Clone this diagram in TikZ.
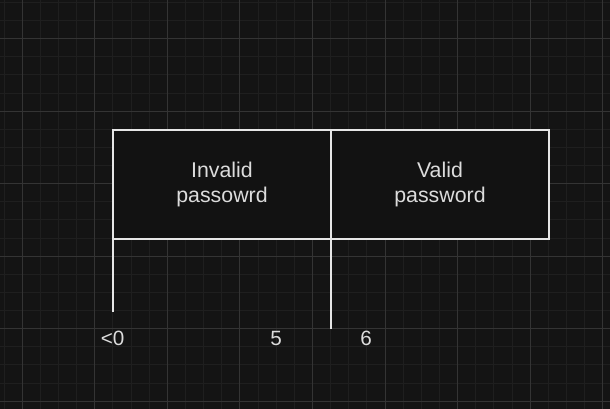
\documentclass[tikz,border=0pt]{standalone}
\usepackage{fontspec}
\setmainfont{Liberation Sans}
\definecolor{bgc}{HTML}{141414}
\definecolor{minorc}{HTML}{1F1F1F}
\definecolor{majorc}{HTML}{343434}
\definecolor{boxfill}{HTML}{121212}
\definecolor{linec}{HTML}{E6E6E6}
\definecolor{txtc}{HTML}{DCDCDC}
\tikzset{
  rangebox/.style={draw=linec, fill=boxfill, line width=1.5pt, minimum width=163.5pt, minimum height=81.75pt, inner sep=0pt, outer sep=0pt, align=center, text=txtc, font=\fontsize{16pt}{18.75pt}\selectfont, anchor=north west},
  tick/.style={draw=linec, line width=1.5pt},
  numlabel/.style={text=txtc, font=\fontsize{15.5pt}{18pt}\selectfont, anchor=base, inner sep=0pt}
}
\begin{document}
\begin{tikzpicture}[x=0.75pt,y=-0.75pt]
\fill[bgc] (0,0) rectangle (610,409);
\useasboundingbox (0,0) rectangle (610,409);
\foreach \i in {-1,...,33} {
  \draw[minorc, line width=0.75pt] ({22.3+18.1375*\i},0) -- ({22.3+18.1375*\i},409);
}
\foreach \j in {-2,...,22} {
  \draw[minorc, line width=0.75pt] (0,{38.7+18.125*\j}) -- (610,{38.7+18.125*\j});
}
\foreach \i in {0,...,8} {
  \draw[majorc, line width=0.75pt] ({22.3+72.55*\i},0) -- ({22.3+72.55*\i},409);
}
\foreach \j in {0,...,5} {
  \draw[majorc, line width=0.75pt] (0,{38.7+72.5*\j}) -- (610,{38.7+72.5*\j});
}
\node[rangebox] (inv) at (113,130) {Invalid\\passowrd};
\node[rangebox] (val) at (331,130) {Valid\\password};
\coordinate (c1) at (113,312);
\coordinate (c2) at (331,329);
\draw[tick] (inv.south west) -- (c1);
\draw[tick] (inv.south east) -- (c2);
\node[numlabel] (l0) at (112.7,346) {<0};
\node[numlabel] (l5) at (276,346) {5};
\node[numlabel] (l6) at (366,346) {6};
\end{tikzpicture}
\end{document}
